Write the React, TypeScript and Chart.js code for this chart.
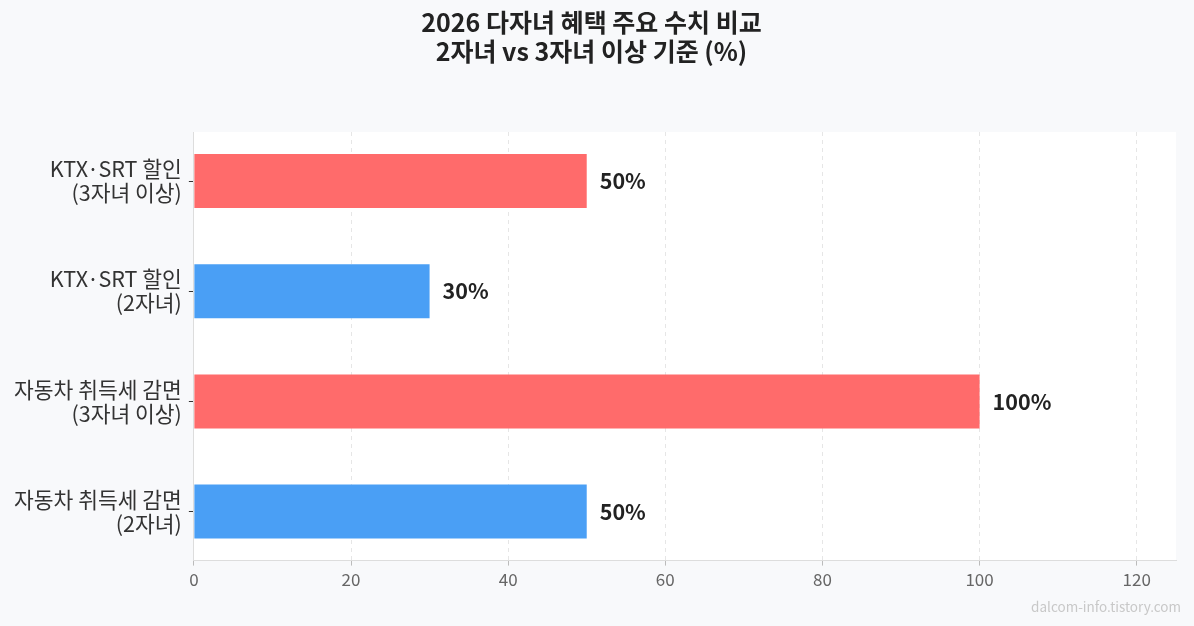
import { useEffect, useRef } from "react";
import { Chart, type ChartConfiguration, type Plugin } from "chart.js/auto";

const categories: string[][] = [
  ["KTX·SRT 할인", "(3자녀 이상)"],
  ["KTX·SRT 할인", "(2자녀)"],
  ["자동차 취득세 감면", "(3자녀 이상)"],
  ["자동차 취득세 감면", "(2자녀)"],
];
const values = [50, 30, 100, 50];
const barColors = ["#ff6b6b", "#4a9ff5", "#ff6b6b", "#4a9ff5"];
const xTicks = [0, 20, 40, 60, 80, 100, 120];
const titleLines = ["2026 다자녀 혜택 주요 수치 비교", "2자녀 vs 3자녀 이상 기준 (%)"];
const watermark = "dalcom-info.tistory.com";

const FONT = "'Noto Sans CJK KR', 'Noto Sans', sans-serif";
// how far (in category units) the y range runs past the first and last bar
const CAT_MARGIN = 0.445;

// white plot area, value labels and the watermark
const decorPlugin: Plugin<"bar"> = {
  id: "decor",
  beforeDraw(chart) {
    const { ctx, chartArea, width, height } = chart;
    ctx.save();
    ctx.fillStyle = "#f8f9fb";
    ctx.fillRect(0, 0, width, height);
    ctx.fillStyle = "#ffffff";
    ctx.fillRect(chartArea.left, chartArea.top, chartArea.right - chartArea.left, chartArea.bottom - chartArea.top);
    ctx.restore();
  },
  afterDatasetsDraw(chart) {
    const { ctx } = chart;
    const meta = chart.getDatasetMeta(0);
    ctx.save();
    ctx.font = `bold 21.5px ${FONT}`;
    ctx.fillStyle = "#222222";
    ctx.textAlign = "left";
    ctx.textBaseline = "middle";
    meta.data.forEach((bar, i) => {
      ctx.fillText(`${values[i]}%`, bar.x + 13, bar.y);
    });
    ctx.restore();
  },
  afterDraw(chart) {
    const { ctx, width, height } = chart;
    ctx.save();
    ctx.font = `13.5px ${FONT}`;
    ctx.fillStyle = "#c8c8c8";
    ctx.textAlign = "right";
    ctx.textBaseline = "middle";
    ctx.fillText(watermark, width - 13, height - 19);
    ctx.restore();
  },
};

export default function App() {
  const canvasRef = useRef<HTMLCanvasElement | null>(null);

  useEffect(() => {
    document.body.style.margin = "0";
    const canvas = canvasRef.current;
    if (!canvas) return;

    const config: ChartConfiguration<"bar"> = {
      type: "bar",
      data: {
        labels: categories,
        datasets: [
          {
            data: values,
            backgroundColor: barColors,
            barPercentage: 0.49,
            categoryPercentage: 1,
          },
        ],
      },
      options: {
        indexAxis: "y",
        responsive: true,
        maintainAspectRatio: false,
        animation: false,
        layout: { padding: { left: 7, right: 18, top: 0, bottom: 32 } },
        scales: {
          x: {
            min: 0,
            max: 125,
            afterBuildTicks: (axis) => {
              axis.ticks = xTicks.map((v) => ({ value: v }));
            },
            ticks: {
              color: "#666666",
              padding: 4,
              font: { family: FONT, size: 17 },
            },
            grid: {
              color: (c) => (c.tick && c.tick.value === 0 ? "rgba(0,0,0,0)" : "#e6e6e6"),
              tickColor: "#bbbbbb",
              tickLength: 5,
              tickBorderDash: [0, 0],
            },
            border: { color: "#dddddd", dash: [4, 4] },
          },
          y: {
            offset: false,
            afterBuildTicks: (axis) => {
              const s = axis as any;
              s._startValue = -CAT_MARGIN;
              s._valueRange = categories.length - 1 + 2 * CAT_MARGIN;
            },
            ticks: {
              color: "#333333",
              padding: 7,
              font: { family: FONT, size: 21.5, lineHeight: 1.12 },
            },
            grid: {
              offset: false,
              drawOnChartArea: false,
              tickColor: "#333333",
              tickLength: 5,
            },
            border: { color: "#dddddd" },
          },
        },
        plugins: {
          legend: { display: false },
          tooltip: { enabled: false },
          title: {
            display: true,
            text: titleLines,
            color: "#222222",
            font: { family: FONT, size: 25, weight: "bold", lineHeight: 1.16 },
            padding: { top: 8, bottom: 66 },
          },
        },
      },
      plugins: [decorPlugin],
    };

    const chart = new Chart(canvas, config);
    return () => {
      chart.destroy();
    };
  }, []);

  return (
    <div style={{ width: 1194, height: 626, position: "relative" }}>
      <canvas ref={canvasRef} />
    </div>
  );
}
